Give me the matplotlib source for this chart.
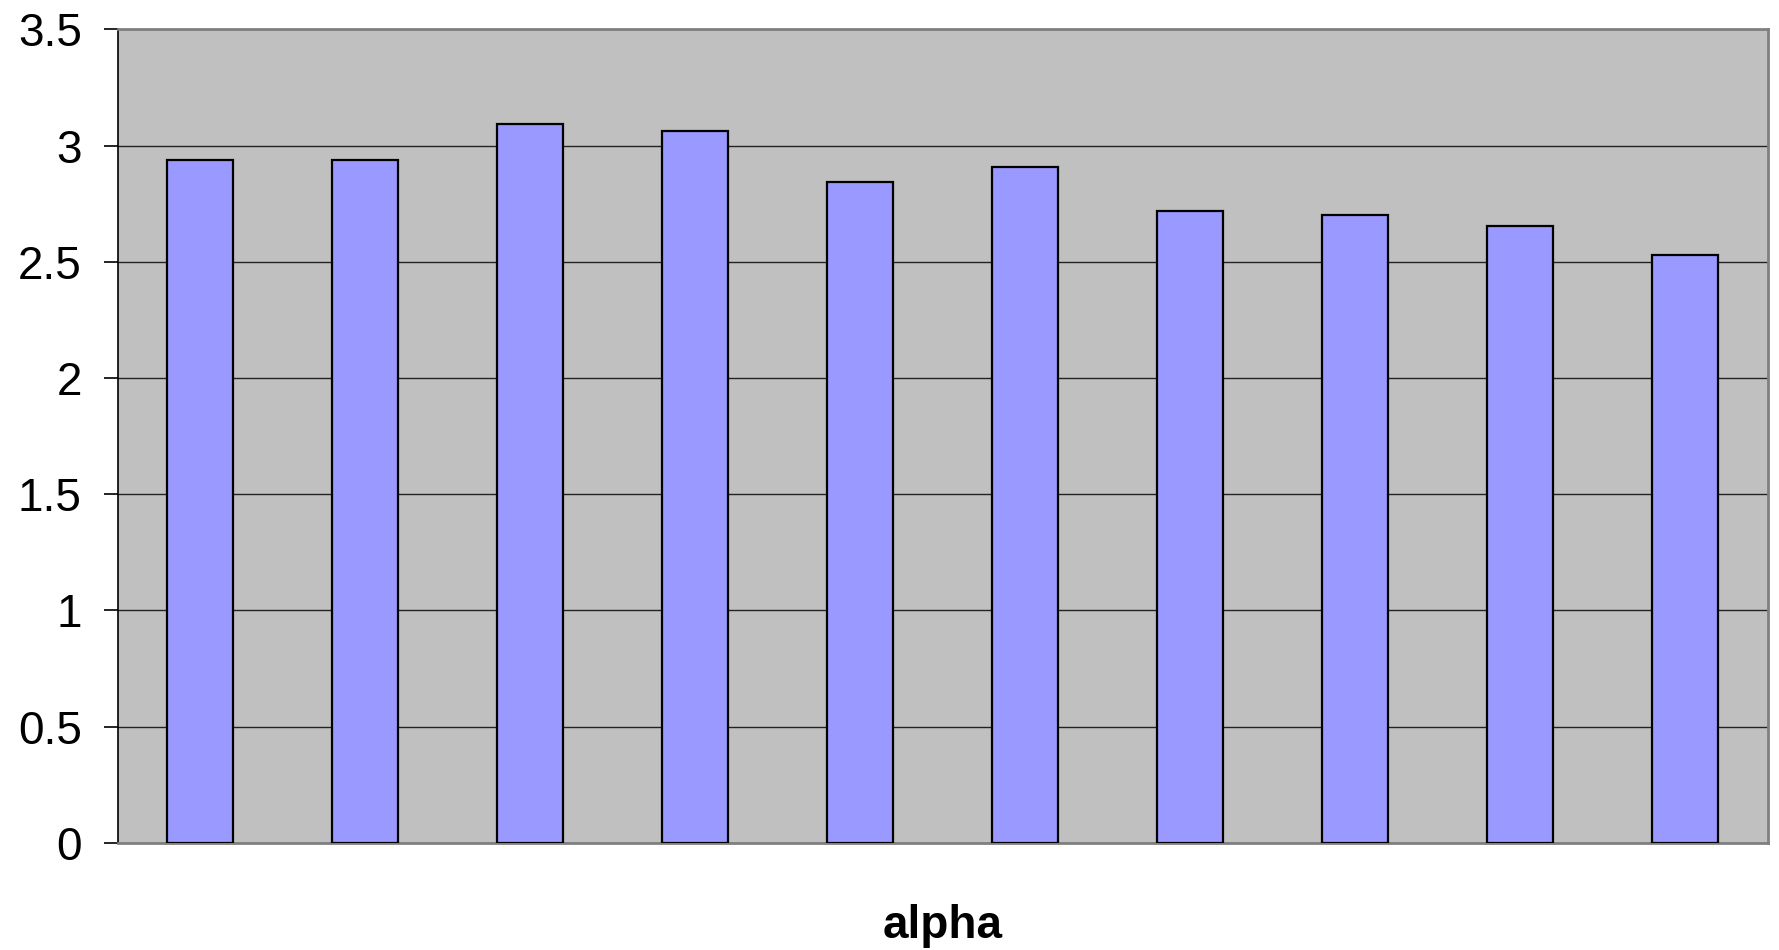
import matplotlib
matplotlib.use("Agg")
import matplotlib.pyplot as plt
import numpy as np

categories = ["1", "2", "3", "4", "5", "6", "7", "8", "9", "10"]
values = [2.938, 2.938, 3.095, 3.063, 2.844, 2.909, 2.720, 2.703, 2.656, 2.529]
yticks = [0, 0.5, 1, 1.5, 2, 2.5, 3, 3.5]
ytick_labels = ["0", "0.5", "1", "1.5", "2", "2.5", "3", "3.5"]

plt.rcParams['font.family'] = ['Liberation Sans', 'DejaVu Sans']

fig = plt.figure(figsize=(17.79, 9.50), dpi=100)
ax = fig.add_axes([0.0663, 0.1129, 0.9275, 0.8561])
ax.set_facecolor("#C0C0C0")

x = np.arange(len(categories))
ax.bar(x, values, width=0.4, color="#9999FF", edgecolor="black", linewidth=1.6, zorder=3)

ax.set_xlim(-0.5, len(categories) - 0.5)
ax.set_ylim(0, 3.5)
ax.set_yticks(yticks)
ax.set_yticklabels(ytick_labels)
ax.set_xticks([])
ax.yaxis.grid(True, color="#222222", linewidth=1.0, zorder=1)
ax.set_axisbelow(True)

ax.tick_params(axis='y', direction='out', length=10, width=1.2, pad=16, labelsize=33, colors='black')
for s in ['top', 'right', 'bottom']:
    ax.spines[s].set_color('#808080')
    ax.spines[s].set_linewidth(2)
ax.spines['left'].set_color('black')
ax.spines['left'].set_linewidth(1.2)

ax.set_xlabel("alpha", fontsize=33, fontweight='bold', labelpad=44)

fig.savefig("out.png", dpi=100)
